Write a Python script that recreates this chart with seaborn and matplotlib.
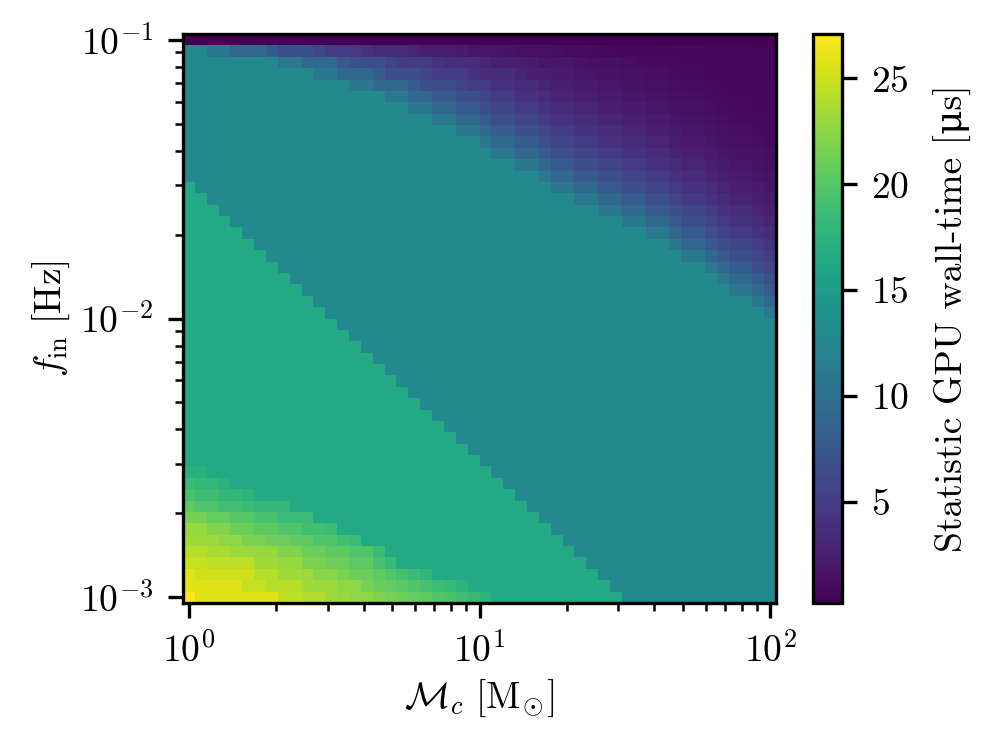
import numpy as np
import matplotlib
matplotlib.use("Agg")
import matplotlib.pyplot as plt
import seaborn as sns

# ---------------- data ----------------
# grid: 50 chirp-mass values (1..100, log) x 50 frequencies (1e-3..1e-1, log)
N_MC = 50
N_F = 50
MC_RANGE = (1.0, 100.0)
F_RANGE = (1e-3, 1e-1)

# number of rows (from the bottom) that are NOT in the purple (fast) region, per column
TEAL_TOP = [49, 49, 48, 48, 48, 48, 48, 48, 47, 47,
            47, 46, 46, 46, 45, 45, 45, 44, 44, 43,
            43, 42, 42, 41, 41, 40, 39, 39, 38, 38,
            37, 36, 36, 35, 35, 34, 34, 33, 33, 32,
            32, 31, 30, 30, 29, 28, 27, 27, 26, 25]
# number of rows (from the bottom) in the green band, per column
GREEN_TOP = [37, 36, 35, 34, 33, 32, 31, 30, 29, 28,
             27, 26, 25, 24, 23, 22, 21, 20, 19, 18,
             17, 16, 15, 14, 13, 12, 11, 10, 9, 8,
             7, 6, 5, 4, 3, 2, 1, 0, 0, 0,
             0, 0, 0, 0, 0, 0, 0, 0, 0, 0]
# yellow corner: wall-time per cell, one list per row (bottom row first), from the left edge
CORNER_ROWS = [
    [27.1, 25.8, 25.8, 25.8, 25.8, 25.8, 25.8, 25.8, 24.4, 24.4, 24.0, 24.0, 23.3,
     23.0, 22.5, 22.5, 22.0, 21.7, 21.3, 20.8, 20.4, 19.9, 19.4, 18.9, 18.3, 17.6],
    [25.8, 25.8, 25.8, 25.8, 25.8, 24.7, 24.7, 24.1, 24.1, 24.1, 23.3, 23.1, 23.1,
     22.5, 22.5, 21.5, 21.0, 20.6, 20.2, 19.8, 19.3, 18.8, 18.3, 17.6],
    [25.8, 25.2, 25.2, 25.2, 25.2, 25.2, 24.1, 24.1, 23.3, 23.3, 23.1, 22.3, 22.3,
     21.7, 21.1, 21.1, 20.5, 19.9, 19.2, 18.5, 17.8],
    [24.7, 24.7, 24.4, 24.4, 24.4, 24.4, 23.3, 23.3, 22.8, 22.8, 21.7, 21.7, 21.1,
     21.1, 20.4, 20.4, 19.3, 18.3],
    [24.1, 24.1, 23.6, 23.6, 23.1, 23.1, 22.8, 22.8, 22.0, 22.0, 21.1, 21.1, 20.4,
     20.4, 19.7, 19.7, 18.5],
    [23.3, 23.1, 23.1, 22.5, 22.5, 21.7, 21.7, 21.1, 21.1, 20.4, 20.4, 19.7, 19.7,
     19.0, 18.5],
    [22.8, 22.8, 22.0, 22.0, 21.1, 21.1, 20.4, 20.4, 19.7, 19.7, 19.0, 19.0, 18.5],
    [21.5, 21.5, 20.6, 20.6, 20.0, 20.0, 19.3, 19.3, 18.5, 18.5, 18.5],
    [20.4, 19.7, 19.7, 19.0, 19.0, 18.5, 18.0, 18.0, 18.0],
    [19.3, 18.8, 18.8, 18.0, 18.0, 17.6],
    [18.5, 18.0, 18.0, 17.4],
    [17.3, 17.3],
]

TEAL_VALUE = 12.9
GREEN_VALUE = 16.4
TOP_ROW_VALUE = 0.24
# wall-time in the purple region vs. distance (cells) from the teal boundary
PURPLE_PROFILE = [10.9, 9.2, 7.8, 6.7, 5.7, 4.9, 4.1, 3.5, 2.95, 2.5,
                  2.15, 1.8, 1.55, 1.33, 1.15, 1.02, 0.92, 0.84, 0.77, 0.71,
                  0.66, 0.62, 0.58, 0.55, 0.52, 0.50, 0.48, 0.46]

CBAR_TICKS = [5, 10, 15, 20, 25]

# ---------------- build the grid ----------------
teal_top = np.array(TEAL_TOP)
Z = np.empty((N_F, N_MC))
for i in range(N_MC):
    for j in range(N_F):
        if j == N_F - 1:
            v = TOP_ROW_VALUE
        elif j >= TEAL_TOP[i]:
            d = j - TEAL_TOP[i] + 1
            c0 = int(np.argmax(teal_top <= j))
            h = i - c0 + 1
            k = max(d, int(round(0.5 * h)))
            v = PURPLE_PROFILE[min(k, len(PURPLE_PROFILE)) - 1]
        elif j < len(CORNER_ROWS) and i < len(CORNER_ROWS[j]):
            v = CORNER_ROWS[j][i]
        elif j < GREEN_TOP[i]:
            v = GREEN_VALUE
        else:
            v = TEAL_VALUE
        Z[j, i] = v

lx0, lx1 = np.log10(MC_RANGE)
ly0, ly1 = np.log10(F_RANGE)
hx = (lx1 - lx0) / (N_MC - 1) / 2
hy = (ly1 - ly0) / (N_F - 1) / 2
x_edges = np.logspace(lx0 - hx, lx1 + hx, N_MC + 1)
y_edges = np.logspace(ly0 - hy, ly1 + hy, N_F + 1)

# ---------------- style ----------------
sns.set_theme(style="ticks")
FS = 9
plt.rcParams.update({
    "font.family": ["cmr10", "DejaVu Serif"],
    "mathtext.fontset": "cm",
    "axes.formatter.use_mathtext": True,
    "font.size": FS,
    "axes.labelsize": FS,
    "xtick.labelsize": FS,
    "ytick.labelsize": FS,
    "axes.edgecolor": "black",
    "axes.linewidth": 0.8,
    "xtick.color": "black",
    "ytick.color": "black",
    "xtick.major.size": 3.5,
    "ytick.major.size": 3.5,
    "xtick.minor.size": 2.0,
    "ytick.minor.size": 2.0,
    "xtick.major.width": 0.8,
    "ytick.major.width": 0.8,
    "xtick.minor.width": 0.6,
    "ytick.minor.width": 0.6,
    "text.color": "black",
    "axes.labelcolor": "black",
})

cmap = sns.color_palette("viridis", as_cmap=True)

W, H = 986, 744
fig = plt.figure(figsize=(W / 300, H / 300), dpi=300)
ax = fig.add_axes([183 / W, 1 - 603 / H, (776 - 183) / W, (603 - 34) / H])
cax = fig.add_axes([813 / W, 1 - 603 / H, (842 - 813) / W, (603 - 34) / H])

mesh = ax.pcolormesh(x_edges, y_edges, Z, cmap=cmap, shading="flat",
                     rasterized=True)
ax.set_xscale("log")
ax.set_yscale("log")
ax.set_xlim(x_edges[0], x_edges[-1])
ax.set_ylim(y_edges[0], y_edges[-1])
ax.set_xlabel(r"$\mathcal{M}_c\ [\mathrm{M}_{\!\odot\!}]$", labelpad=2)
ax.set_ylabel(r"$f_{\rm in}\ [\mathrm{Hz}]$", labelpad=2)
ax.tick_params(which="both", direction="out")

cb = fig.colorbar(mesh, cax=cax, ticks=CBAR_TICKS)
cb.outline.set_linewidth(0.8)
cb.outline.set_edgecolor("black")
cb.set_label("Statistic GPU wall-time [\u03bcs]", labelpad=6)
cax.tick_params(which="both", direction="out", length=3.5, pad=3.5)
cax.minorticks_off()

fig.savefig("out.png", dpi=300)
